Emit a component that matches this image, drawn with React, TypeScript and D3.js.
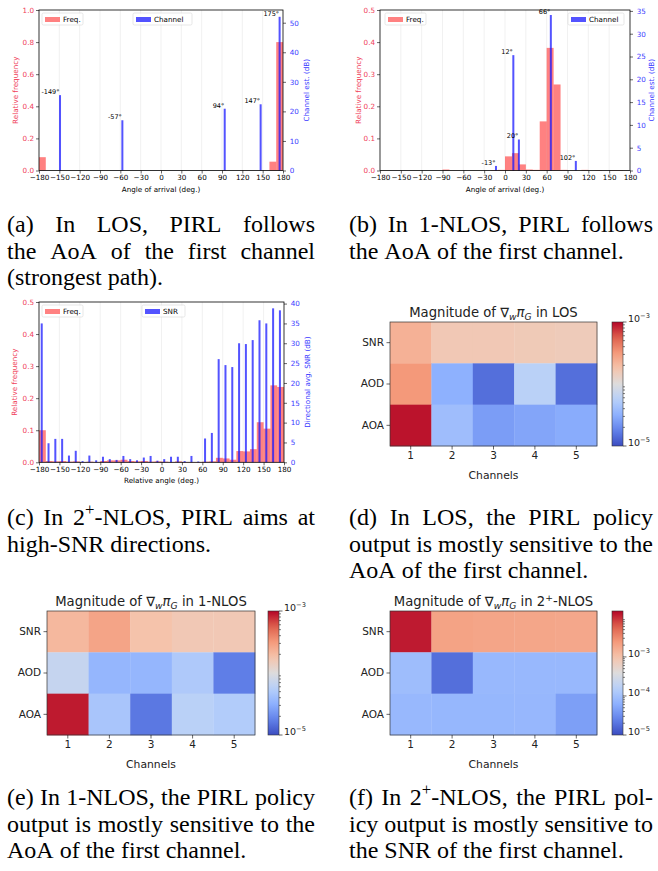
import React, { useEffect, useRef } from 'react';
import * as d3 from 'd3';

const W = 658;
const H = 871;
const SANS = 'DejaVu Sans, sans-serif';
const SERIF = 'Liberation Serif, Times New Roman, serif';
const RED = '#ff1a1a';
const BLUE = '#1a1aff';
const BIN = 10;
const X_TICKS = [-180, -150, -120, -90, -60, -30, 0, 30, 60, 90, 120, 150, 180];

// (a) LOS
const losFreqBins = [-180, 160, 170];
const losFreq = [0.083, 0.055, 0.8];
const losPathAngles = [-149, -57, 94, 147, 175];
const losPathDb = [25.5, 17.0, 20.9, 22.4, 52.0];

// (b) 1-NLOS
const nlosFreqBins = [-90, -20, -10, 0, 10, 20, 30, 40, 50, 60, 70, 80, 110, 130, 150, 160];
const nlosFreq = [0.003, 0.001, 0.002, 0.044, 0.054, 0.019, 0.003, 0.002, 0.153, 0.382, 0.268, 0.002, 0.002, 0.001, 0.001, 0.001];
const nlosPathAngles = [-13, 12, 20, 66, 102];
const nlosPathDb = [1.0, 25.3, 6.8, 34.1, 2.1];

// (c) 2+-NLOS
const multiFreqBins = [-180, -170, -160, -150, -140, -130, -120, -110, -100, -90, -80, -70, -60, -50, -40, -30, -20, -10,
  0, 10, 20, 30, 40, 50, 60, 70, 80, 90, 100, 110, 120, 130, 140, 150, 160, 170];
const multiFreq = [0.10, 0.004, 0.003, 0.004, 0.002, 0.003, 0.001, 0.002, 0.001, 0.004, 0.006, 0.006, 0.008, 0.004, 0.003, 0.004, 0.002, 0.003,
  0.002, 0.001, 0.003, 0.001, 0.001, 0.001, 0.002, 0.003, 0.014, 0.012, 0.008, 0.035, 0.034, 0.041, 0.125, 0.105, 0.24, 0.235];
const snrAngles = [-176, -166, -156, -146, -136, -126, -116, -106, -96, -86, -76, -66, -56, -46, -36, -26, -16, -6,
  4, 14, 24, 34, 44, 54, 64, 74, 84, 94, 104, 114, 124, 134, 144, 154, 164, 174];
const snrDb = [35, 4.8, 5.9, 5.9, 1.7, 2.9, 0.3, 1.7, 0.5, 1.4, 0.8, 0.6, 1.6, 0.8, 0.5, 1.2, 1.6, 0.4,
  0.8, 1.4, 1.4, 0.3, 1.6, 0.2, 6.0, 7.4, 26, 24.5, 24, 30, 29.8, 30.8, 35.8, 35, 38.8, 38.3];

// heatmaps: rows = features, cols = channels
const features = ['SNR', 'AOD', 'AOA'];
const channels = ['1', '2', '3', '4', '5'];
const gradLos = [
  [2.3e-4, 1.6e-4, 1.6e-4, 1.55e-4, 1.5e-4],
  [3.2e-4, 3.2e-5, 1.45e-5, 5.8e-5, 1.45e-5],
  [9.1e-4, 4.0e-5, 2.5e-5, 2.75e-5, 3.0e-5],
];
const grad1Nlos = [
  [2.1e-4, 2.75e-4, 1.8e-4, 1.6e-4, 1.6e-4],
  [6.9e-5, 3.5e-5, 3.5e-5, 5.0e-5, 1.7e-5],
  [8.7e-4, 4.6e-5, 1.6e-5, 5.8e-5, 5.2e-5],
];
const grad2Nlos = [
  [1.2e-2, 2.0e-3, 1.9e-3, 1.85e-3, 1.8e-3],
  [9.0e-5, 1.8e-5, 7.8e-5, 7.8e-5, 7.8e-5],
  [7.8e-5, 7.5e-5, 7.6e-5, 7.7e-5, 4.4e-5],
];

const captionA = ['(a) In LOS, PIRL follows', 'the AoA of the first channel', '(strongest path).'];
const captionB = ['(b) In 1-NLOS, PIRL follows', 'the AoA of the first channel.'];
const captionC = ['(c) In 2^{+}-NLOS, PIRL aims at', 'high-SNR directions.'];
const captionD = ['(d) In LOS, the PIRL policy', 'output is mostly sensitive to the', 'AoA of the first channel.'];
const captionE = ['(e) In 1-NLOS, the PIRL policy', 'output is mostly sensitive to the', 'AoA of the first channel.'];
const captionF = ['(f) In 2^{+}-NLOS, the PIRL pol-', 'icy output is mostly sensitive to', 'the SNR of the first channel.'];

const coolwarm = d3.piecewise(d3.interpolateRgb, ['#3b4cc0', '#6282ea', '#8db0fe', '#b8d0f9', '#dddcdc', '#f5c4ac', '#f49a7b', '#de604d', '#b40426']);

// simple markup: ^{..} superscript, _{..} subscript (italic), *..* italic
const rich = (text: any, str: string, size: number) => {
  const re = /(\^\{[^}]*\}|_\{[^}]*\}|\*[^*]*\*)/g;
  let shift = 0;
  str.split(re).forEach(p => {
    if (!p) return;
    let t = p, target = 0, small = false, it = false;
    if (p.startsWith('^{')) { t = p.slice(2, -1); target = -0.4 * size; small = true; }
    else if (p.startsWith('_{')) { t = p.slice(2, -1); target = 0.25 * size; small = true; it = true; }
    else if (p.startsWith('*')) { t = p.slice(1, -1); it = true; }
    const ts = text.append('tspan').text(t).attr('dy', target - shift);
    shift = target;
    if (small) ts.attr('font-size', size * 0.7);
    if (it) ts.attr('font-style', 'italic');
  });
};

const styleAxis = (ax: any, color: string, size = 7.2) => {
  ax.select('.domain').remove();
  ax.selectAll('line').attr('stroke', '#000').attr('stroke-width', 0.6);
  ax.selectAll('text').attr('fill', color).attr('font-size', size).attr('font-family', SANS);
};

function drawHist(svg: any, p: any) {
  const g = svg.append('g');
  const x = d3.scaleLinear().domain([-180, 180]).range([p.left, p.right]);
  const yL = d3.scaleLinear().domain([0, p.leftMax]).range([p.bottom, p.top]);
  const yR = d3.scaleLinear().domain([0, p.rightMax]).range([p.bottom, p.top]);

  g.append('g').selectAll('line').data(X_TICKS.slice(1, -1)).enter().append('line')
    .attr('x1', (d: number) => x(d)).attr('x2', (d: number) => x(d))
    .attr('y1', p.top).attr('y2', p.bottom)
    .attr('stroke', '#e8e8e8').attr('stroke-width', 0.6);

  g.append('g').selectAll('rect').data(p.freqBins).enter().append('rect')
    .attr('x', (d: number) => x(d)).attr('width', (d: number) => x(d + BIN) - x(d))
    .attr('y', (d: number, i: number) => yL(p.freq[i]))
    .attr('height', (d: number, i: number) => p.bottom - yL(p.freq[i]))
    .attr('fill', RED).attr('fill-opacity', 0.55);

  g.append('g').selectAll('rect').data(p.angles).enter().append('rect')
    .attr('x', (d: number) => x(d) - 1).attr('width', 2)
    .attr('y', (d: number, i: number) => yR(p.vals[i]))
    .attr('height', (d: number, i: number) => p.bottom - yR(p.vals[i]))
    .attr('fill', BLUE).attr('fill-opacity', 0.75);

  if (p.labels) {
    g.append('g').selectAll('text').data(p.angles).enter().append('text')
      .attr('x', (d: number) => x(d) - 0.5)
      .attr('y', (d: number, i: number) => yR(p.vals[i]) - 1)
      .attr('text-anchor', 'end').attr('font-size', 6.5).attr('font-family', SANS)
      .text((d: number) => `${d}°`);
  }

  g.append('rect').attr('x', p.left).attr('y', p.top)
    .attr('width', p.right - p.left).attr('height', p.bottom - p.top)
    .attr('fill', 'none').attr('stroke', '#000').attr('stroke-width', 0.8);

  const ax = g.append('g').attr('transform', `translate(0,${p.bottom})`)
    .call(d3.axisBottom(x).tickValues(X_TICKS).tickSize(3).tickPadding(1.5));
  styleAxis(ax, '#000');
  const al = g.append('g').attr('transform', `translate(${p.left},0)`)
    .call(d3.axisLeft(yL).tickValues(p.leftTicks).tickFormat(d3.format('.1f')).tickSize(3).tickPadding(2));
  styleAxis(al, '#f0405a');
  const ar = g.append('g').attr('transform', `translate(${p.right},0)`)
    .call(d3.axisRight(yR).tickValues(p.rightTicks).tickFormat(d3.format('d')).tickSize(3).tickPadding(3.8));
  styleAxis(ar, '#3a3aff');

  const midY = (p.top + p.bottom) / 2;
  g.append('text').attr('x', (p.left + p.right) / 2).attr('y', p.bottom + 21)
    .attr('text-anchor', 'middle').attr('font-size', 7.2).attr('font-family', SANS)
    .text(p.xLabel);
  g.append('text').attr('transform', `translate(${p.leftLabelX},${midY}) rotate(-90)`)
    .attr('text-anchor', 'middle').attr('dy', '0.35em').attr('font-size', 7.2).attr('font-family', SANS)
    .attr('fill', '#f0405a').text('Relative frequency');
  g.append('text').attr('transform', `translate(${p.rightLabelX},${midY}) rotate(-90)`)
    .attr('text-anchor', 'middle').attr('dy', '0.35em').attr('font-size', 7.2).attr('font-family', SANS)
    .attr('fill', '#3a3aff').text(p.rightLabel);

  // legend entries
  const legend = (lx: number, w: number, color: string, op: number, label: string) => {
    const ly = p.top + 3;
    g.append('rect').attr('x', lx).attr('y', ly).attr('width', w).attr('height', 12).attr('rx', 1.5)
      .attr('fill', '#fff').attr('fill-opacity', 0.8).attr('stroke', '#d6d6d6').attr('stroke-width', 0.6);
    g.append('rect').attr('x', lx + 3).attr('y', ly + 4).attr('width', 15).attr('height', 5)
      .attr('fill', color).attr('fill-opacity', op);
    g.append('text').attr('x', lx + 21).attr('y', ly + 6).attr('dy', '0.35em')
      .attr('font-size', 7.2).attr('font-family', SANS).text(label);
  };
  legend(p.legFreqX, 41, RED, 0.55, 'Freq.');
  legend(p.legBX, p.legBW, BLUE, 0.75, p.legendB);
}

function drawHeat(svg: any, p: any) {
  const g = svg.append('g');
  const x = d3.scaleBand().domain(channels).range([p.left, p.right]);
  const y = d3.scaleBand().domain(features).range([p.top, p.bottom]);
  const norm = d3.scaleLog().domain(p.domain).range([0, 1]).clamp(true);
  const cells = p.data.flatMap((row: number[], r: number) => row.map((v, c) => ({ f: features[r], ch: channels[c], v })));

  g.append('g').selectAll('rect').data(cells).enter().append('rect')
    .attr('x', (d: any) => x(d.ch)).attr('y', (d: any) => y(d.f))
    .attr('width', x.bandwidth() + 0.3).attr('height', y.bandwidth() + 0.3)
    .attr('fill', (d: any) => coolwarm(norm(d.v)));
  g.append('rect').attr('x', p.left).attr('y', p.top)
    .attr('width', p.right - p.left).attr('height', p.bottom - p.top)
    .attr('fill', 'none').attr('stroke', '#333').attr('stroke-width', 0.7);

  const ay = g.append('g').attr('transform', `translate(${p.left},0)`)
    .call(d3.axisLeft(y).tickSize(3.5).tickPadding(2.5));
  styleAxis(ay, '#222', 10.5);
  const ax = g.append('g').attr('transform', `translate(0,${p.bottom})`)
    .call(d3.axisBottom(x).tickSize(3.5).tickPadding(2));
  styleAxis(ax, '#222', 10.5);
  g.append('text').attr('x', (p.left + p.right) / 2).attr('y', p.bottom + 33)
    .attr('text-anchor', 'middle').attr('font-size', 10.8).attr('font-family', SANS).attr('fill', '#222')
    .text('Channels');

  const title = g.append('text').attr('x', (p.left + p.right) / 2).attr('y', p.top - 5)
    .attr('text-anchor', 'middle').attr('font-size', 13.2).attr('font-family', SANS).attr('fill', '#222');
  rich(title, p.title, 13.2);

  // colorbar
  const id = `cb-${p.id}`;
  const grad = svg.append('defs').append('linearGradient').attr('id', id)
    .attr('x1', 0).attr('y1', 1).attr('x2', 0).attr('y2', 0);
  d3.range(0, 1.0001, 0.05).forEach(t => grad.append('stop').attr('offset', t).attr('stop-color', coolwarm(t)));
  g.append('rect').attr('x', p.cbX).attr('y', p.top).attr('width', 11).attr('height', p.bottom - p.top)
    .attr('fill', `url(#${id})`).attr('stroke', '#333').attr('stroke-width', 0.6);
  const yc = d3.scaleLog().domain(p.domain).range([p.bottom, p.top]);
  const minors: number[] = [];
  for (let e = -6; e <= -1; e++) for (let m = 2; m <= 9; m++) {
    const v = m * Math.pow(10, e);
    if (v > p.domain[0] && v < p.domain[1]) minors.push(v);
  }
  const cx = p.cbX + 11;
  g.append('g').selectAll('line').data(minors).enter().append('line')
    .attr('x1', cx).attr('x2', cx + 2).attr('y1', (d: number) => yc(d)).attr('y2', (d: number) => yc(d))
    .attr('stroke', '#000').attr('stroke-width', 0.5);
  p.majors.forEach((e: number) => {
    const yy = yc(Math.pow(10, e));
    g.append('line').attr('x1', cx).attr('x2', cx + 3.5).attr('y1', yy).attr('y2', yy)
      .attr('stroke', '#000').attr('stroke-width', 0.6);
    const t = g.append('text').attr('x', cx + 5).attr('y', yy).attr('dy', '0.35em')
      .attr('font-size', 9.5).attr('font-family', SANS).attr('fill', '#222');
    rich(t, `10^{−${-e}}`, 9.5);
  });
}

function drawCaption(svg: any, lines: string[], x0: number, x1: number, y0: number) {
  const fs = 24;
  lines.forEach((line, li) => {
    const words = line.split(' ');
    const yy = y0 + li * 26.5;
    const nodes = words.map(w => {
      const t = svg.append('text').attr('y', yy).attr('font-family', SERIF).attr('font-size', fs).attr('fill', '#000');
      rich(t, w, fs);
      return t;
    });
    const widths = nodes.map(n => n.node().getComputedTextLength());
    const justify = li < lines.length - 1 && words.length > 1;
    const gap = justify ? (x1 - x0 - d3.sum(widths)) / (words.length - 1) : fs * 0.25;
    let cx = x0;
    nodes.forEach((n, i) => { n.attr('x', cx); cx += widths[i] + gap; });
  });
}

export default function App() {
  const ref = useRef<SVGSVGElement>(null);

  useEffect(() => {
    const svg = d3.select(ref.current);
    svg.selectAll('*').remove();

    drawHist(svg, {
      left: 39, right: 283, top: 10, bottom: 170.5, leftMax: 1.0, leftTicks: [0, 0.2, 0.4, 0.6, 0.8, 1.0],
      rightMax: 54.3, rightTicks: [0, 10, 20, 30, 40, 50], freqBins: losFreqBins, freq: losFreq,
      angles: losPathAngles, vals: losPathDb, labels: true, xLabel: 'Angle of arrival (deg.)',
      rightLabel: 'Channel est. (dB)', legendB: 'Channel', legFreqX: 42, legBX: 133, legBW: 59,
      leftLabelX: 15, rightLabelX: 306,
    });
    drawHist(svg, {
      left: 380, right: 630, top: 10, bottom: 170.5, leftMax: 0.5, leftTicks: [0, 0.1, 0.2, 0.3, 0.4, 0.5],
      rightMax: 35.2, rightTicks: [0, 5, 10, 15, 20, 25, 30, 35], freqBins: nlosFreqBins, freq: nlosFreq,
      angles: nlosPathAngles, vals: nlosPathDb, labels: true, xLabel: 'Angle of arrival (deg.)',
      rightLabel: 'Channel est. (dB)', legendB: 'Channel', legFreqX: 385, legBX: 568, legBW: 56,
      leftLabelX: 358, rightLabelX: 651,
    });
    drawHist(svg, {
      left: 39, right: 284, top: 302, bottom: 462.3, leftMax: 0.5, leftTicks: [0, 0.1, 0.2, 0.3, 0.4, 0.5],
      rightMax: 40.4, rightTicks: [0, 5, 10, 15, 20, 25, 30, 35, 40], freqBins: multiFreqBins, freq: multiFreq,
      angles: snrAngles, vals: snrDb, labels: false, xLabel: 'Relative angle (deg.)',
      rightLabel: 'Directional avg. SNR (dB)', legendB: 'SNR', legFreqX: 42, legBX: 142, legBW: 43,
      leftLabelX: 14, rightLabelX: 307,
    });

    drawHeat(svg, {
      id: 'd', left: 390, right: 597, top: 322, bottom: 446, cbX: 612, domain: [1e-5, 1e-3], majors: [-3, -5],
      data: gradLos, title: 'Magnitude of ∇_{w}*π*_{G} in LOS',
    });
    drawHeat(svg, {
      id: 'e', left: 47, right: 255, top: 611, bottom: 735, cbX: 268, domain: [1e-5, 1e-3], majors: [-3, -5],
      data: grad1Nlos, title: 'Magnitude of ∇_{w}*π*_{G} in 1-NLOS',
    });
    drawHeat(svg, {
      id: 'f', left: 390, right: 597, top: 611, bottom: 735, cbX: 612, domain: [1e-5, 1.5e-2], majors: [-3, -4, -5],
      data: grad2Nlos, title: 'Magnitude of ∇_{w}*π*_{G} in 2^{+}-NLOS',
    });

    drawCaption(svg, captionA, 7, 315, 232);
    drawCaption(svg, captionB, 349, 653, 232);
    drawCaption(svg, captionC, 7, 315, 525);
    drawCaption(svg, captionD, 349, 653, 525);
    drawCaption(svg, captionE, 7, 315, 805);
    drawCaption(svg, captionF, 349, 653, 805);
  }, []);

  return (
    <svg ref={ref} width={W} height={H}
      style={{ position: 'absolute', left: 0, top: 0, background: '#fff' }} />
  );
}
